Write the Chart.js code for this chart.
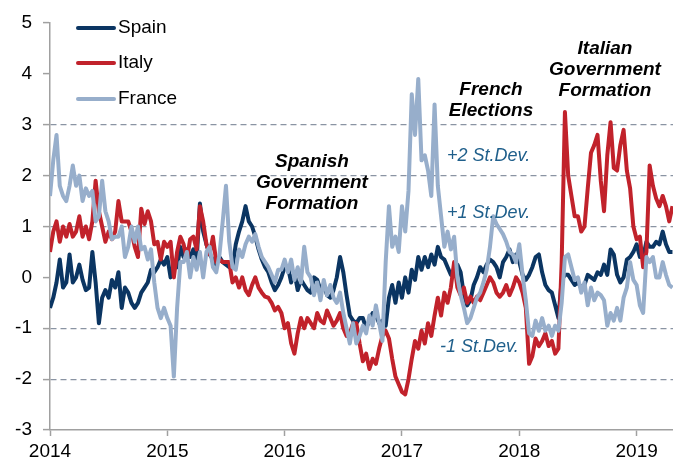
<!DOCTYPE html>
<html>
<head>
<meta charset="utf-8">
<title>Sovereign spread z-scores</title>
<script src="https://cdn.jsdelivr.net/npm/chart.js@4.4.1/dist/chart.umd.min.js"></script>
<style>
    body { margin: 0; background: #fff; }
    #wrap { position: relative; width: 673px; height: 463px; font-family: "Liberation Sans", Arial, sans-serif; }
    #chart { position: absolute; left: 0; top: 0; }
    .legend-row { position: absolute; left: 76px; height: 22px; line-height: 22px; font-size: 19px; color: #000; white-space: nowrap; }
    .legend-row span { display: inline-block; width: 40px; height: 4px; border-radius: 2px; vertical-align: middle; margin-right: 2px; }
    .note { position: absolute; transform: translateX(-50%); text-align: center; font-weight: bold; font-style: italic; font-size: 19px; line-height: 21px; color: #000; white-space: nowrap; }
    .sd { position: absolute; font-style: italic; font-size: 18px; line-height: 20px; color: #1f5f8b; white-space: nowrap; }
</style>
</head>
<body>
<div id="wrap">
    <canvas id="chart" width="673" height="463"></canvas>
    <div class="legend-row" style="top:16px"><span style="background:#0b3562"></span>Spain</div>
    <div class="legend-row" style="top:51px"><span style="background:#c1222b"></span>Italy</div>
    <div class="legend-row" style="top:87px"><span style="background:#97aecb"></span>France</div>

    <div class="note" style="left:312px; top:150px">Spanish<br>Government<br>Formation</div>
    <div class="note" style="left:491px; top:78px">French<br>Elections</div>
    <div class="note" style="left:605px; top:37px">Italian<br>Government<br>Formation</div>

    <div class="sd" style="left:447px; top:145px">+2 St.Dev.</div>
    <div class="sd" style="left:447px; top:202px">+1 St.Dev.</div>
    <div class="sd" style="left:440px; top:336px">-1 St.Dev.</div>
</div>
<script>
// readings roughly every 10 days, Jan 2014 onwards (36 per year)
const startYear = 2014;
const periodsPerYear = 36;

const spain = [
    -0.6, -0.4, -0.1, 0.35, -0.2, -0.1, 0.45, -0.1, 0.0, 0.25, -0.05, -0.25, -0.2, 0.5, -0.1, -0.9, -0.4, -0.25, -0.4, -0.05, -0.2, 0.1, -0.6, -0.2,
    -0.3, -0.5, -0.6, -0.5, -0.3, -0.2, -0.1, 0.15, 0.1, 0.2, 0.35, 0.25, 0.4, 0.0, 0.25, 0.2, 0.6, 0.4, 0.55, 0.4, 0.55, 0.35, 1.45, 0.9,
    0.65, 0.45, 0.35, 0.25, 0.4, 0.3, 0.25, 0.2, 0.2, 0.65, 0.9, 1.1, 1.4, 1.1, 1.0, 0.8, 0.55, 0.35, 0.2, 0.1, -0.1, -0.25, -0.15, 0.0,
    0.2, 0.2, -0.1, 0.1, -0.25, -0.05, -0.15, -0.25, -0.3, 0.0, -0.05, -0.25, -0.15, -0.35, -0.4, -0.25, 0.0, 0.4, 0.1, -0.35, -0.75, -0.85, -0.9, -0.8,
    -0.8, -1.0, -0.85, -0.7, -0.75, -0.9, -0.85, -0.95, -0.4, -0.15, -0.5, -0.1, -0.4, 0.0, -0.3, 0.15, -0.05, 0.4, 0.15, 0.4, 0.2, 0.45, 0.25, 0.6,
    0.4, 0.35, 0.2, 0.05, 0.15, 0.25, 0.1, -0.35, -0.55, -0.45, -0.15, 0.0, 0.2, 0.1, 0.25, 0.35, 0.3, 0.2, 0.0, 0.3, 0.4, 0.55, 0.3, 0.45,
    0.3, 0.05, -0.05, 0.05, 0.2, 0.4, 0.45, 0.1, -0.15, -0.25, -0.3, -0.55, -0.8, -0.05, 0.05, 0.05, -0.05, -0.15, -0.1, -0.2, -0.15, 0.05, 0.0, -0.05,
    0.1, 0.05, 0.25, 0.05, 0.55, 0.45, 0.05, -0.1, 0.0, 0.35, 0.4, 0.5, 0.65, 0.4, 0.4, 0.7, 0.6, 0.6, 0.7, 0.65, 0.9, 0.65, 0.5, 0.5
];
const italy = [
    0.5, 0.9, 1.1, 0.7, 1.0, 0.8, 1.05, 0.8, 0.9, 1.2, 0.8, 1.0, 0.75, 1.1, 1.9, 1.3, 1.0, 0.7, 0.9, 0.75, 0.9, 1.5, 1.1, 1.1,
    1.1, 0.9, 0.6, 0.4, 1.35, 1.05, 1.3, 1.1, 0.65, 0.7, 0.35, 0.7, 0.6, 0.7, 0.0, 0.5, 0.8, 0.65, 0.35, 0.75, 0.8, 0.55, 1.4, 1.1,
    0.65, 0.45, 0.8, 0.3, 0.35, 0.3, 0.3, 0.3, -0.1, 0.0, -0.2, 0.0, -0.25, -0.35, -0.15, 0.0, -0.2, -0.3, -0.38, -0.4, -0.5, -0.65, -0.58, -0.7,
    -1.0, -0.9, -1.3, -1.5, -1.1, -0.8, -1.0, -0.8, -0.9, -1.0, -0.7, -0.85, -0.9, -0.65, -0.8, -0.95, -0.85, -0.7, -1.0, -1.15, -1.1, -0.9, -0.9, -1.3,
    -1.65, -1.5, -1.8, -1.6, -1.7, -1.4, -1.15, -1.05, -1.2, -1.6, -1.95, -2.1, -2.25, -2.3, -2.0, -1.6, -1.25, -1.4, -1.05, -1.3, -0.9, -1.15, -0.75, -0.4,
    -0.75, -0.3, -0.5, -0.2, 0.3, -0.2, -0.35, -0.2, -0.5, -0.38, -0.5, -0.38, -0.45, -0.3, -0.15, 0.0, -0.1, -0.3, -0.38, -0.3, -0.15, -0.35, -0.2, 0.0,
    -0.1, -0.3, -0.6, -1.7, -1.55, -1.2, -1.35, -1.25, -1.1, -1.35, -1.25, -1.5, -1.4, 0.3, 3.25, 2.0, 1.6, 1.2, 1.2, 0.9, 1.0, 1.75, 2.45, 2.6,
    2.8, 1.9, 1.3, 2.4, 3.05, 2.15, 2.1, 2.6, 2.9, 2.1, 1.75, 1.0, 0.75, 0.8, 0.2, 0.5, 2.2, 1.8, 1.55, 1.4, 1.6, 1.4, 1.1, 1.4
];
const france = [
    1.6, 2.3, 2.8, 1.8, 1.6, 1.5, 1.8, 2.2, 1.8, 2.0, 1.5, 1.75, 1.6, 1.7, 1.1, 1.2, 1.9, 1.3, 1.1, 0.75, 0.8, 0.8, 1.0, 0.4,
    0.6, 1.0, 0.7, 1.0, 0.55, 0.6, 0.35, 0.55, -0.1, -0.6, -0.8, -0.6, -0.8, -0.95, -1.95, -0.6, 0.3, 0.3, 0.5, 0.0, 0.4, 0.15, 0.5, 0.0,
    0.5, 0.6, 0.2, 0.1, 0.45, 1.1, 1.8, 0.7, 0.2, 0.15, 0.55, 0.4, 0.65, 0.8, 0.7, 0.85, 0.6, 0.4, 0.3, 0.2, 0.05, -0.1, 0.15, 0.15,
    0.35, 0.1, 0.35, -0.05, 0.2, -0.1, 0.6, 0.1, 0.0, -0.35, -0.1, -0.45, -0.05, -0.35, -0.15, -0.4, -0.5, -0.3, -0.7, -1.0, -1.3, -0.9, -1.3, -1.15,
    -0.95, -1.1, -0.75, -0.95, -0.55, -0.9, -1.25, 0.3, 1.4, 0.6, 0.8, 0.5, 1.4, 0.9, 1.7, 3.6, 2.8, 3.9, 2.3, 2.4, 2.1, 1.6, 3.4, 1.8,
    1.2, 0.6, 0.9, 0.55, 0.8, 0.0, -0.35, -0.6, -0.9, -0.8, -0.6, -0.4, -0.3, -0.1, 0.15, 0.6, 1.2, 1.05, 0.95, 0.85, 0.7, 0.5, 0.45, 0.3,
    0.65, 0.05, -0.45, -1.1, -1.15, -0.85, -1.05, -0.8, -1.05, -0.95, -1.15, -0.95, -1.05, -0.5, 0.4, 0.45, 0.2, -0.05, 0.0, -0.3, -0.1, -0.55, -0.2, -0.45,
    -0.3, -0.35, -0.45, -0.95, -0.7, -0.85, -0.6, -0.85, -0.4, -0.2, 0.3, -0.05, -0.15, -0.55, -0.7, 0.4, 0.3, 0.4, 0.0, 0.0, 0.3, 0.05, -0.15, -0.2
];

const yearTicks = [2014, 2015, 2016, 2017, 2018, 2019];
const valueTicks = [-3, -2, -1, 0, 1, 2, 3, 4, 5];
const dashedLevels = [3, 2, 1, -1, -2];

const dates = spain.map((_, i) => startYear + i / periodsPerYear);
const toPoints = values => values.map((v, i) => ({ x: dates[i], y: v }));

const tickFont = { family: '"Liberation Sans", Arial, sans-serif', size: 19 };

new Chart(document.getElementById('chart').getContext('2d'), {
    type: 'line',
    data: {
        datasets: [
            { label: 'Spain', data: toPoints(spain), borderColor: '#0b3562', order: 2 },
            { label: 'Italy', data: toPoints(italy), borderColor: '#c1222b', order: 1 },
            { label: 'France', data: toPoints(france), borderColor: '#97aecb', order: 0 }
        ]
    },
    options: {
        responsive: false,
        animation: false,
        devicePixelRatio: 1,
        layout: { padding: { top: 23, right: 0, left: 0, bottom: 0 } },
        elements: {
            line: { borderWidth: 4, tension: 0, fill: false, borderJoinStyle: 'round' },
            point: { radius: 0 }
        },
        plugins: { legend: { display: false }, tooltip: { enabled: false } },
        scales: {
            x: {
                type: 'linear',
                min: 2014,
                max: 2019.31,
                afterBuildTicks: scale => { scale.ticks = yearTicks.map(v => ({ value: v })); },
                afterFit: scale => { scale.height = 33; },
                grid: { drawOnChartArea: false, tickLength: 6, tickColor: '#a0a0a0', tickWidth: 1.5 },
                border: { color: '#a0a0a0', width: 1.5 },
                ticks: { font: tickFont, color: '#000', padding: 4, maxRotation: 0, callback: v => String(v) }
            },
            y: {
                min: -3,
                max: 5,
                afterBuildTicks: scale => { scale.ticks = valueTicks.map(v => ({ value: v })); },
                afterFit: scale => { scale.width = 50; },
                grid: {
                    color: ctx => (ctx.tick && dashedLevels.includes(ctx.tick.value)) ? '#8a94a3' : 'rgba(0,0,0,0)',
                    lineWidth: 1.2,
                    tickColor: '#a0a0a0',
                    tickLength: 7,
                    tickWidth: 1.5
                },
                border: { color: '#a0a0a0', width: 1.5, dash: [6, 4] },
                ticks: { font: tickFont, color: '#000', padding: 11, callback: v => String(v) }
            }
        }
    }
});
</script>
</body>
</html>
